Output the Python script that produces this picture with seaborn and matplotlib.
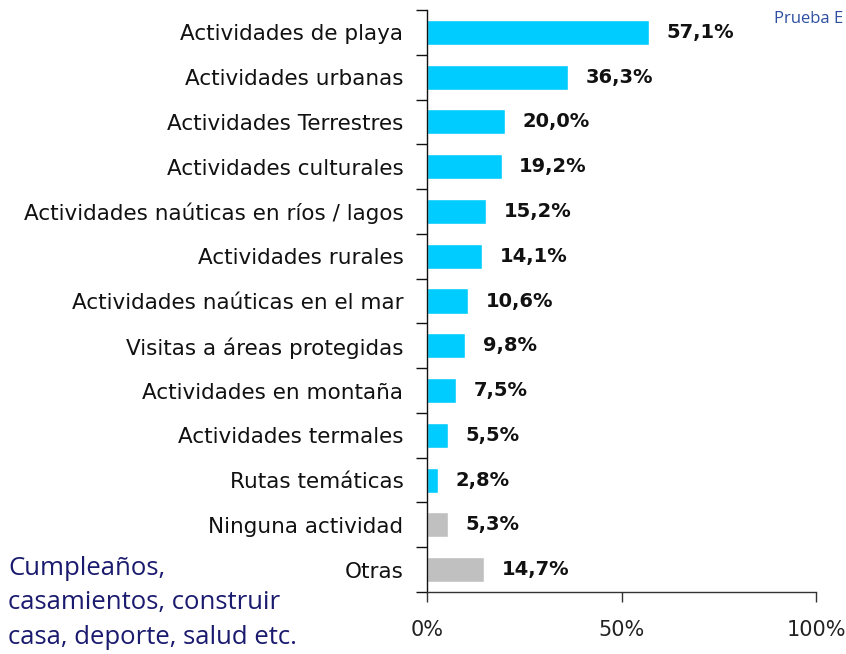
import matplotlib
matplotlib.use("Agg")
import matplotlib.pyplot as plt
import seaborn as sns
import pandas as pd
import numpy as np

categories = ["Actividades de playa", "Actividades urbanas", "Actividades Terrestres",
              "Actividades culturales", "Actividades naúticas en ríos / lagos",
              "Actividades rurales", "Actividades naúticas en el mar",
              "Visitas a áreas protegidas", "Actividades en montaña",
              "Actividades termales", "Rutas temáticas", "Ninguna actividad", "Otras"]
values = [57.1, 36.3, 20.0, 19.2, 15.2, 14.1, 10.6, 9.8, 7.5, 5.5, 2.8, 5.3, 14.7]
labels = ["57,1%", "36,3%", "20,0%", "19,2%", "15,2%", "14,1%", "10,6%", "9,8%",
          "7,5%", "5,5%", "2,8%", "5,3%", "14,7%"]
group = ["main"] * 11 + ["other"] * 2
xticks = [0, 50, 100]
xticklabels = ["0%", "50%", "100%"]

sns.set_theme(style="white")
plt.rcParams['font.family'] = ['DejaVu Sans']

df = pd.DataFrame({"cat": categories, "val": values, "grp": group})

fig = plt.figure(figsize=(8.46, 6.54), dpi=100)
ax = fig.add_axes([427/846, 62/654, 389/846, 582/654])
sns.barplot(data=df, y="cat", x="val", hue="grp", orient="h",
            palette={"main": "#00CCFF", "other": "#C0C0C0"},
            width=0.56, dodge=False, legend=False, ax=ax, saturation=1)

ax.set_xlim(0, 100)
ax.set_ylim(len(categories) - 0.5, -0.5)
ax.set_xlabel("")
ax.set_ylabel("")
ax.set_xticks(xticks)
ax.set_xticklabels(xticklabels, color="#222222", fontsize=15)
ax.tick_params(axis="x", length=7, width=1, color="#333333", pad=13, direction="out", bottom=True)
ax.tick_params(axis="y", which="major", length=0, pad=17, labelsize=15.5, labelcolor="#111111")
ax.set_yticks(np.arange(-0.5, len(categories), 1), minor=True)
ax.tick_params(axis="y", which="minor", length=8, width=1, color="#111111", left=True, direction="out")

for s in ["top", "right"]:
    ax.spines[s].set_visible(False)
ax.spines["left"].set_color("#111111")
ax.spines["bottom"].set_color("#333333")
ax.spines["left"].set_linewidth(1)
ax.spines["bottom"].set_linewidth(1)

for i, (v, t) in enumerate(zip(values, labels)):
    ax.text(v + 4.5, i, t, va="center", ha="left", fontsize=14, fontweight="bold", color="#111111")

fig.text(774/846, 1 - 19/654, "Prueba E", fontsize=12, color="#2E4FA0", va="center", ha="left",
         family="Open Sans")
fig.text(8/846, 1 - 603/654, "Cumpleaños,\ncasamientos, construir\ncasa, deporte, salud etc.",
         fontsize=18.5, color="#1A1A6E", va="center", ha="left", linespacing=1.5,
         family="Open Sans")

fig.savefig("out.png", dpi=100)
